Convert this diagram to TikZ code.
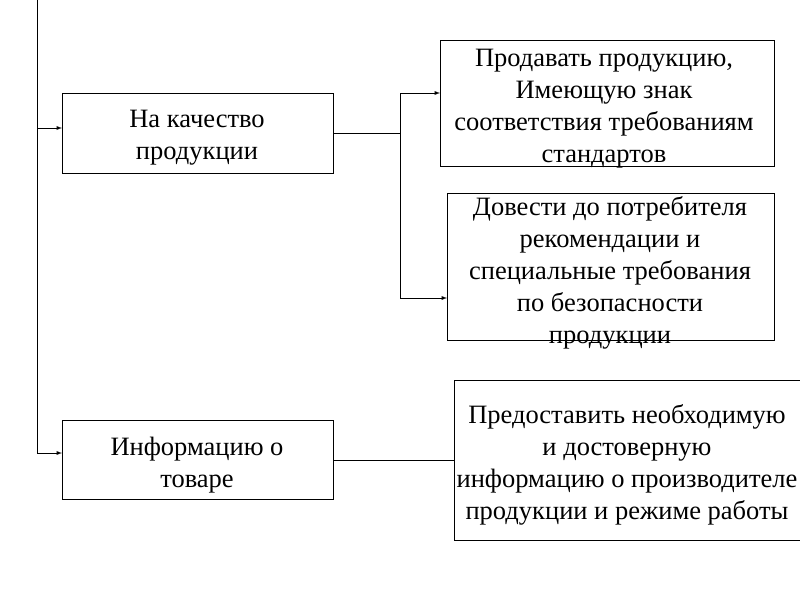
\documentclass[tikz,border=0pt]{standalone}
\usepackage{fontspec}
\setmainfont{Liberation Serif}
\begin{document}
\begin{tikzpicture}[x=1pt,y=-1pt,
  bx/.style={draw,line width=0.9pt},
  tx/.style={align=center,font=\fontsize{26.5}{32}\selectfont,inner sep=0},
  ln/.style={line width=0.9pt},
  ar/.style={ln,-latex}]
\useasboundingbox (0,0) rectangle (800,600);
\fill[white] (0,0) rectangle (800,600);
\draw[bx] (62,93) rectangle (333,173); \node[tx] (k) at (197,138) {На качество\\продукции};
\draw[bx] (62,420) rectangle (333,499); \node[tx] (i) at (197,465) {Информацию о\\товаре};
\draw[bx] (440,40) rectangle (774,166); \node[tx] (a) at (604,109) {Продавать продукцию,\\Имеющую знак\\соответствия требованиям\\стандартов};
\draw[bx] (447,193) rectangle (774,340); \node[tx] (b) at (610,273) {Довести до потребителя\\рекомендации и\\специальные требования\\по безопасности\\продукции};
\draw[bx] (454,380) rectangle (800,540); \node[tx] (c) at (627,465) {Предоставить необходимую\\и достоверную\\информацию о производителе\\продукции и режиме работы};
\coordinate (t) at (37,0);
\draw[ln] (t) -- (37,453);
\draw[ar] (37,128) -- (62,128);
\draw[ar] (37,453) -- (62,453);
\draw[ln] (333,133) -- (400,133);
\draw[ln] (400,93) -- (400,298);
\draw[ar] (400,93) -- (440,93);
\draw[ar] (400,298) -- (447,298);
\draw[ln] (333,460) -- (454,460);
\end{tikzpicture}
\end{document}
